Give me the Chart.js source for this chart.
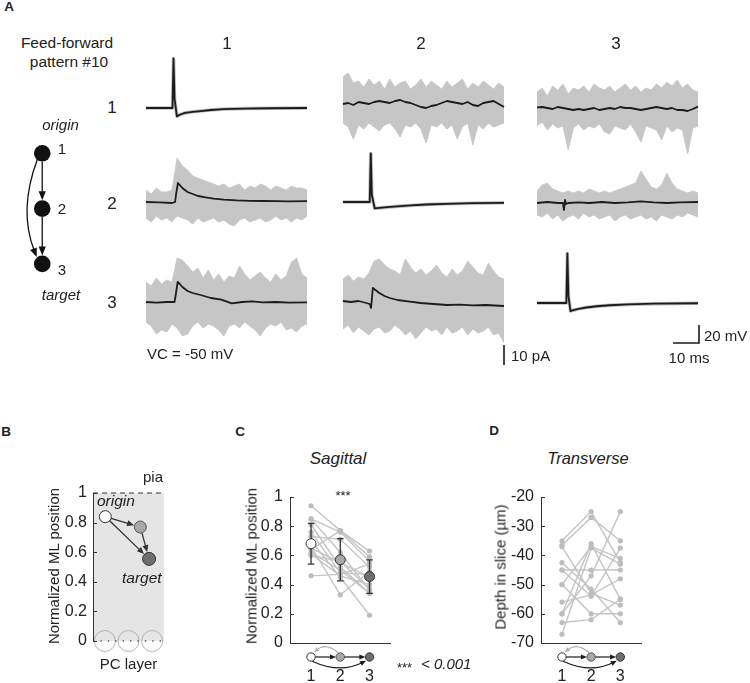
<!DOCTYPE html>
<html><head><meta charset="utf-8">
<script src="https://cdn.jsdelivr.net/npm/chart.js@4/dist/chart.umd.min.js"></script>
<style>
html,body{margin:0;padding:0;background:#fff;}
#fig{position:relative;width:750px;height:683px;overflow:hidden;font-family:'Liberation Sans',Arial,sans-serif;color:#222;}
#fig canvas{position:absolute;}
.tx{position:absolute;white-space:nowrap;line-height:1;}
</style></head><body><div id="fig"></div>
<script>
// ================= DATA =================
const cells = ['1','2','3'];
const tGrid = [0,2,4,6,8,10,12,14,16,18,20,22,24,26,28,30,32,34,36,38,40,42,44,46,48,50,52,54,56,58,60,62];

// current-clamp action potentials (mV re. rest)
const spike11T = [0,10.2,10.6,11.0,11.9,13,15,18,21,25,30,38,48,62];
const spike11V = [0,0,55,10,-9.3,-7.5,-5.5,-4.2,-3.4,-2.2,-1.2,-0.6,-0.3,0];
const spike22T = [0,10.3,10.7,11.1,12.2,14,17,21,26,32,40,50,62];
const spike22V = [0,0,54,8,-7,-6.6,-5.8,-4.8,-3.8,-2.8,-2,-1.3,-0.9];
const spike33T = [0,11.3,11.7,12.1,12.9,14,16,19,23,28,35,45,62];
const spike33V = [0,0,55,8,-9,-8,-6.5,-5,-3.6,-2.5,-1.6,-0.8,-0.3];

// voltage-clamp responses (pA): envelope of single trials + mean
const up12 = [14,16,11,12,9,13,10,12,8,13,9,11,12,8,10,13,9,12,10,8,12,9,11,13,8,11,9,12,10,8,11,9];
const lo12 = [-9,-11,-17,-10,-12,-9,-11,-13,-10,-9,-12,-16,-10,-11,-9,-12,-19,-10,-11,-9,-12,-10,-17,-11,-9,-20,-10,-12,-9,-11,-10,-9];
const mean12 = [0.5,1,0,1.5,1,0.5,1.5,2,1.5,1,2,2.5,1.5,1,0,-1,-1.5,-0.5,0,1,2,1.5,1,0.5,1.5,0,-0.5,1,1.5,2,0.5,-1];

const up13 = [8,10,6,11,9,12,7,10,9,11,8,12,10,9,11,8,10,12,9,11,8,10,9,12,10,13,11,14,10,12,9,8];
const lo13 = [-9,-7,-11,-8,-10,-9,-21,-10,-8,-11,-9,-10,-8,-12,-13,-9,-10,-11,-8,-12,-17,-9,-10,-11,-16,-9,-12,-10,-11,-23,-10,-9];
const mean13 = [0.3,0.5,0,-0.5,0.5,0,-0.5,-1,-0.5,-1,-0.5,0,-1,-0.5,0,-0.5,0.5,0,0,-0.5,-1,-0.5,0,0.5,0,-0.5,0,-1,-1,-1.5,-0.5,0.7];

const up21 = [6,4,7,5,5,6,22,18,16,13,12,11,10,9,8,9,7,8,9,6,8,7,9,8,6,8,7,6,8,7,7,6];
const lo21 = [-8,-10,-7,-9,-8,-10,-7,-8,-9,-11,-8,-10,-9,-8,-10,-9,-11,-12,-9,-8,-10,-9,-8,-10,-9,-7,-9,-8,-10,-8,-9,-7];
const mean21T = [0,5,10,11.2,11.6,12.3,13,14,16,18,20,23,26,30,35,40,45,50,55,62];
const mean21V = [0,-0.2,-0.5,0,4,9.5,8.5,7,5,4,3,2.3,1.7,1.2,0.8,0.6,0.5,0.4,0.3,0.4];

const up23 = [6,9,10,7,6,5,6,5,6,5,7,6,5,6,5,6,7,8,9,10,16,12,8,7,9,15,10,7,6,5,6,5];
const lo23 = [-6,-7,-5,-8,-6,-9,-7,-6,-8,-5,-7,-6,-8,-7,-6,-9,-7,-6,-8,-7,-6,-8,-7,-9,-6,-7,-8,-6,-7,-5,-6,-7];
const mean23T = [0,4,8,10,10.4,10.8,11.2,12,16,20,25,30,35,40,45,50,55,62];
const mean23V = [0,0.5,0,0,-3.5,1.5,-0.5,0,0.3,0,0.5,0,0.3,0.8,0.3,0,0.3,0.5];

const up31 = [10,8,12,9,11,10,22,21,18,15,17,12,16,11,14,10,13,12,18,14,11,13,15,12,10,14,11,13,20,22,14,12];
const lo31 = [-10,-12,-16,-14,-15,-11,-13,-17,-16,-12,-10,-13,-11,-12,-14,-17,-12,-11,-13,-10,-12,-14,-17,-13,-11,-12,-10,-14,-13,-15,-12,-11];
const mean31T = [0,4,8,11,11.5,12.2,13,14,16,18,21,25,29,33,37,41,45,50,55,62];
const mean31V = [0,-0.3,0,0,4,10,9,7.5,5.5,4.5,3.5,2,1.2,-0.7,0,0.3,-0.2,0,-0.3,-0.2];

const up32 = [12,14,11,13,12,15,21,22,19,17,16,14,22,18,15,17,14,16,19,15,13,17,14,16,21,18,15,14,20,16,13,12];
const lo32 = [-13,-11,-15,-12,-14,-16,-13,-12,-15,-14,-11,-13,-16,-14,-18,-15,-12,-14,-13,-16,-12,-15,-14,-12,-16,-13,-15,-14,-12,-16,-15,-20];
const mean32T = [0,3,6,9,10.3,10.8,11.5,12.5,14,16,18,21,25,30,35,40,45,50,55,62];
const mean32V = [1,0.5,1,0,-0.5,-2.5,7.5,6.5,5,3.5,2.5,1.5,0.8,0,-0.5,-1,-0.8,-1.2,-1,-1.5];

// scale bars
const barMs = 10, barMV = 20, barPA = 10;

// B: normalized ML position of the three cells
const bPosX = [0.52, 2.0, 2.37];
const bPosY = [0.84, 0.77, 0.555];
const pcSomata = [0.5, 1.5, 2.5];

// C: sagittal, normalized ML position per cell (one entry per pattern)
const sagPos1 = [0.94,0.85,0.85,0.81,0.76,0.73,0.70,0.66,0.64,0.62,0.61,0.60,0.46,0.65];
const sagPos2 = [0.77,0.76,0.62,0.52,0.48,0.71,0.45,0.33,0.77,0.50,0.46,0.56,0.47,0.55];
const sagPos3 = [0.63,0.56,0.36,0.34,0.47,0.52,0.19,0.49,0.59,0.34,0.40,0.37,0.54,0.45];
const sagMean = [0.68, 0.57, 0.455];
const sagSD = [0.14, 0.145, 0.115];

// D: transverse, depth in slice (um)
const trDepth1 = [-35,-36.5,-37,-42.5,-45,-50,-50,-56,-60,-63,-67,-45,-60];
const trDepth2 = [-25,-27,-53,-51.5,-45,-37,-60,-53.5,-36,-62,-37.5,-54,-47];
const trDepth3 = [-42.5,-35,-57,-63,-45,-41,-60,-48,-55,-55,-43,-37.5,-25];

// ================= SETUP =================
Chart.defaults.font.family = "'Liberation Sans', Arial, sans-serif";
Chart.defaults.font.size = 16;
Chart.defaults.color = '#222';
Chart.defaults.animation = false;
Chart.defaults.responsive = false;
Chart.defaults.maintainAspectRatio = false;
Chart.defaults.plugins.legend.display = false;
Chart.defaults.plugins.tooltip.enabled = false;

const fig = document.getElementById('fig');
function addCanvas(l, t, w, h) {
  const c = document.createElement('canvas');
  c.width = w; c.height = h;
  c.style.left = l + 'px'; c.style.top = t + 'px';
  c.style.width = w + 'px'; c.style.height = h + 'px';
  fig.appendChild(c);
  return c;
}
function txt(s, x, y, size, o = {}) {
  const d = document.createElement('div');
  d.className = 'tx';
  d.textContent = s;
  d.style.left = x + 'px'; d.style.top = y + 'px';
  d.style.fontSize = size + 'px';
  if (o.italic) d.style.fontStyle = 'italic';
  if (o.bold) d.style.fontWeight = 'bold';
  const ax = o.align === 'left' ? '0' : '-50%';
  d.style.transform = `translate(${ax},-50%)` + (o.rot ? ' rotate(-90deg)' : '');
  fig.appendChild(d);
}
function arrowHead(ctx, x, y, ang, len, hw, color) {
  ctx.save(); ctx.fillStyle = color; ctx.beginPath();
  ctx.moveTo(x, y);
  ctx.lineTo(x - len*Math.cos(ang) + hw*Math.sin(ang), y - len*Math.sin(ang) - hw*Math.cos(ang));
  ctx.lineTo(x - len*Math.cos(ang) - hw*Math.sin(ang), y - len*Math.sin(ang) + hw*Math.cos(ang));
  ctx.closePath(); ctx.fill(); ctx.restore();
}
function drawArrow(ctx, a, b, rA, rB, head, hw, color) {
  const ang = Math.atan2(b[1]-a[1], b[0]-a[0]);
  const sx = a[0] + rA*Math.cos(ang), sy = a[1] + rA*Math.sin(ang);
  const tx = b[0] - rB*Math.cos(ang), ty = b[1] - rB*Math.sin(ang);
  ctx.beginPath(); ctx.moveTo(sx, sy);
  ctx.lineTo(tx - head*0.7*Math.cos(ang), ty - head*0.7*Math.sin(ang)); ctx.stroke();
  arrowHead(ctx, tx, ty, ang, head, hw, color);
}
const xy = (ts, vs) => ts.map((t, i) => ({x: t, y: vs[i]}));

// ================= PANEL A: traces =================
const colLeft = [146, 343, 537];
const traceW = 161;
const msPx = traceW / 62;
const mvPx = 0.9, paPx = 2;

function traceChart(col, baseY, unitPx, datasets) {
  const W = traceW + 6, H = 140, L = colLeft[col] - 3, T = baseY - 70;
  const c = addCanvas(L, T, W, H);
  new Chart(c, {
    type: 'line',
    data: {datasets},
    options: {
      layout: {padding: 0},
      scales: {
        x: {type: 'linear', display: false, min: -3/msPx, max: (W-3)/msPx},
        y: {type: 'linear', display: false, min: -70/unitPx, max: 70/unitPx}
      },
      elements: {point: {radius: 0}, line: {tension: 0, borderJoinStyle: 'round'}}
    }
  });
}
function noisySets(up, lo, mT, mV) {
  return [
    {data: xy(mT, mV), borderColor: '#1c1c1c', borderWidth: 1.8, fill: false},
    {data: xy(tGrid, up), borderColor: '#cbcbcb', borderWidth: 1, backgroundColor: '#c6c6c6', fill: '+1'},
    {data: xy(tGrid, lo), borderColor: '#cbcbcb', borderWidth: 1, fill: false}
  ];
}
function spikeSets(T, V) {
  return [
    {data: xy(T, V), borderColor: '#1c1c1c', borderWidth: 1.8, fill: false},
    {data: xy(T, V), borderColor: '#bdbdbd', borderWidth: 3.5, fill: false}
  ];
}
traceChart(0, 108, mvPx, spikeSets(spike11T, spike11V));
traceChart(1, 105, paPx, noisySets(up12, lo12, tGrid, mean12));
traceChart(2, 108, paPx, noisySets(up13, lo13, tGrid, mean13));
traceChart(0, 202, paPx, noisySets(up21, lo21, mean21T, mean21V));
traceChart(1, 202, mvPx, spikeSets(spike22T, spike22V));
traceChart(2, 203, paPx, noisySets(up23, lo23, mean23T, mean23V));
traceChart(0, 302, paPx, noisySets(up31, lo31, mean31T, mean31V));
traceChart(1, 303, paPx, noisySets(up32, lo32, mean32T, mean32V));
traceChart(2, 303, mvPx, spikeSets(spike33T, spike33V));

// scale bars
{
  const L = 480, T = 315, W = 240, H = 60;
  const c = addCanvas(L, T, W, H);
  const cT = (699 - L)/msPx, cMV = (T + H - 343)/mvPx;
  const pT = (504 - L)/msPx, pB = (T + H - 365)/paPx;
  new Chart(c, {
    type: 'line',
    data: {datasets: [
      {data: [{x: cT - barMs, y: cMV}, {x: cT, y: cMV}, {x: cT, y: cMV + barMV}], yAxisID: 'yMV', borderColor: '#1c1c1c', borderWidth: 1.6, fill: false},
      {data: [{x: pT, y: pB}, {x: pT, y: pB + barPA}], yAxisID: 'yPA', borderColor: '#1c1c1c', borderWidth: 1.6, fill: false}
    ]},
    options: {
      layout: {padding: 0},
      scales: {
        x: {type: 'linear', display: false, min: 0, max: W/msPx},
        yMV: {type: 'linear', axis: 'y', display: false, min: 0, max: H/mvPx},
        yPA: {type: 'linear', axis: 'y', display: false, min: 0, max: H/paPx}
      },
      elements: {point: {radius: 0}, line: {tension: 0, borderJoinStyle: 'miter', borderCapStyle: 'butt'}}
    }
  });
}

// network diagram of panel A
{
  const L = 0, T = 115, W = 100, H = 200;
  const c = addCanvas(L, T, W, H);
  const nodeX = 40.7, y1 = 147.7 - T, y3 = 268.3 - T, per = (y3 - y1)/2;
  const netArrows = {
    id: 'netArrows',
    beforeDatasetsDraw(chart) {
      const {ctx, scales: {x, y}} = chart;
      const px = x.getPixelForValue(0);
      const py = cells.map((c, i) => y.getPixelForValue(i + 1));
      const r = 8.3;
      ctx.save(); ctx.strokeStyle = '#111'; ctx.lineWidth = 1.3;
      drawArrow(ctx, [px, py[0]], [px, py[1]], r, r, 9, 3.6, '#111');
      drawArrow(ctx, [px, py[1]], [px, py[2]], r, r, 9, 3.6, '#111');
      const s = [px - 5, py[0] + 6.5], cp = [px - 24, (py[0] + py[2])/2 + 2], e = [px - 5.5, py[2] - 6.8];
      const ang = Math.atan2(e[1] - cp[1], e[0] - cp[0]);
      ctx.beginPath(); ctx.moveTo(s[0], s[1]);
      ctx.quadraticCurveTo(cp[0], cp[1], e[0] - 6*Math.cos(ang), e[1] - 6*Math.sin(ang)); ctx.stroke();
      arrowHead(ctx, e[0], e[1], ang, 9, 3.6, '#111');
      ctx.restore();
    }
  };
  new Chart(c, {
    type: 'line',
    data: {datasets: [{data: cells.map((n, i) => ({x: 0, y: i + 1})), showLine: false, pointRadius: 8.3, pointBackgroundColor: '#111', pointBorderWidth: 0, clip: false}]},
    options: {
      layout: {padding: 0},
      scales: {
        x: {type: 'linear', display: false, min: -nodeX, max: W - nodeX},
        y: {type: 'linear', display: false, reverse: true, min: 1 - y1/per, max: 3 + (H - y3)/per}
      }
    },
    plugins: [netArrows]
  });
}

// ================= shared plugins for B, C, D =================
const inTicks = {
  id: 'inTicks',
  afterDraw(chart) {
    const {ctx, chartArea: a, scales: {y}} = chart;
    ctx.save(); ctx.strokeStyle = '#333'; ctx.lineWidth = 1;
    y.ticks.forEach(t => {
      const py = Math.round(y.getPixelForValue(t.value)) + 0.5;
      ctx.beginPath(); ctx.moveTo(a.left, py); ctx.lineTo(a.left + 4, py); ctx.stroke();
    });
    ctx.restore();
  }
};
const nodeFill = ['#ffffff', '#a8a8a8', '#6e6e6e'];
const nodeEdge = ['#333333', '#555555', '#333333'];
const miniNet = {
  id: 'miniNet',
  afterDraw(chart) {
    const {ctx, chartArea: a, scales: {x}} = chart;
    const y0 = a.bottom + 14, r = 4.2;
    const px = cells.map((c, i) => x.getPixelForValue(i + 1));
    ctx.save(); ctx.lineWidth = 1.2;
    // grey feedback arc 2 -> 1
    ctx.strokeStyle = '#b0b0b0';
    let s = [px[1] - 2, y0 - r], cp = [(px[0] + px[1])/2, y0 - 15], e = [px[0] + 3, y0 - r - 0.5];
    let ang = Math.atan2(e[1] - cp[1], e[0] - cp[0]);
    ctx.beginPath(); ctx.moveTo(s[0], s[1]); ctx.quadraticCurveTo(cp[0], cp[1], e[0] - 3*Math.cos(ang), e[1] - 3*Math.sin(ang)); ctx.stroke();
    arrowHead(ctx, e[0], e[1], ang, 5, 2.3, '#b0b0b0');
    // black arc 1 -> 3 below
    ctx.strokeStyle = '#1c1c1c';
    s = [px[0] + 1, y0 + r]; cp = [px[1], y0 + 17]; e = [px[2] - 3.5, y0 + r - 0.5];
    ang = Math.atan2(e[1] - cp[1], e[0] - cp[0]);
    ctx.beginPath(); ctx.moveTo(s[0], s[1]); ctx.quadraticCurveTo(cp[0], cp[1], e[0] - 4*Math.cos(ang), e[1] - 4*Math.sin(ang)); ctx.stroke();
    arrowHead(ctx, e[0], e[1], ang, 6, 2.6, '#1c1c1c');
    // straight arrows
    drawArrow(ctx, [px[0], y0], [px[1], y0], r, r, 6, 2.6, '#1c1c1c');
    drawArrow(ctx, [px[1], y0], [px[2], y0], r, r, 6, 2.6, '#1c1c1c');
    // nodes
    px.forEach((p, i) => {
      ctx.beginPath(); ctx.arc(p, y0, r, 0, Math.PI*2);
      ctx.fillStyle = nodeFill[i]; ctx.fill();
      ctx.strokeStyle = nodeEdge[i]; ctx.lineWidth = 1; ctx.stroke();
    });
    ctx.restore();
  }
};
const errBars = {
  id: 'errBars',
  beforeDatasetDraw(chart, args) {
    if (args.index !== 0) return;
    const {ctx, scales: {x, y}} = chart;
    ctx.save(); ctx.strokeStyle = '#333'; ctx.lineWidth = 1.3;
    sagMean.forEach((m, i) => {
      const px = x.getPixelForValue(i + 1), t = y.getPixelForValue(m + sagSD[i]), b = y.getPixelForValue(m - sagSD[i]);
      ctx.beginPath(); ctx.moveTo(px, t); ctx.lineTo(px, b);
      ctx.moveTo(px - 3.3, t); ctx.lineTo(px + 3.3, t);
      ctx.moveTo(px - 3.3, b); ctx.lineTo(px + 3.3, b); ctx.stroke();
    });
    ctx.restore();
  }
};

// ================= PANEL B =================
{
  const c = addCanvas(20, 465, 160, 218);
  const bBack = {
    id: 'bBack',
    beforeDraw(chart) {
      const {ctx, chartArea: a} = chart;
      ctx.save(); ctx.fillStyle = '#e5e5e5';
      ctx.fillRect(a.left + 0.5, a.top, a.right - a.left - 0.5, a.bottom - a.top);
      ctx.restore();
    }
  };
  const bArrows = {
    id: 'bArrows',
    beforeDatasetDraw(chart, args) {
      if (args.index !== 0) return;
      const {ctx, scales: {x, y}} = chart;
      const P = bPosX.map((v, i) => [x.getPixelForValue(v), y.getPixelForValue(bPosY[i])]);
      ctx.save(); ctx.strokeStyle = '#333'; ctx.lineWidth = 1.3;
      drawArrow(ctx, P[0], P[1], 6, 6.5, 7, 3, '#333');
      drawArrow(ctx, P[1], P[2], 6, 7, 7, 3, '#333');
      drawArrow(ctx, P[0], P[2], 6, 7, 7, 3, '#333');
      ctx.restore();
    }
  };
  new Chart(c, {
    type: 'line',
    data: {datasets: [
      {data: bPosX.map((v, i) => ({x: v, y: bPosY[i]})), showLine: false, pointRadius: [6, 6, 6.5],
       pointBackgroundColor: nodeFill, pointBorderColor: nodeEdge, pointBorderWidth: 1, clip: false},
      {data: [{x: 0, y: 1}, {x: 3, y: 1}], borderColor: '#333', borderWidth: 1.2, borderDash: [5, 4], pointRadius: 0, clip: false},
      {data: [{x: 0, y: 0}, {x: 3, y: 0}], borderColor: '#555', borderWidth: 1.4, borderDash: [1.4, 6], pointRadius: 0, clip: false},
      {data: pcSomata.map(v => ({x: v, y: 0})), showLine: false, pointRadius: 10.5, pointBackgroundColor: 'rgba(0,0,0,0)',
       pointBorderColor: '#b3b3b3', pointBorderWidth: 1, clip: false}
    ]},
    options: {
      layout: {padding: {top: 28, right: 16, bottom: 42, left: 0}},
      scales: {
        x: {type: 'linear', display: false, min: 0, max: 3},
        y: {type: 'linear', min: 0, max: 1, afterFit: s => { s.width = 73; },
            ticks: {stepSize: 0.2, padding: 6, color: '#222', font: {size: 16}, callback: v => String(Math.round(v*10)/10)},
            grid: {display: true, drawOnChartArea: false, drawTicks: false}, border: {color: '#333', width: 1}}
      },
      elements: {line: {tension: 0}}
    },
    plugins: [bBack, bArrows, inTicks]
  });
}

// ================= PANELS C, D =================
function stripChart(o) {
  const c = addCanvas(o.left, o.top, o.w, o.h);
  const subjects = o.s1.map((v, i) => ({
    data: [{x: 1, y: o.s1[i]}, {x: 2, y: o.s2[i]}, {x: 3, y: o.s3[i]}],
    borderColor: '#c4c4c4', borderWidth: 1.4, pointRadius: 2.6,
    pointBackgroundColor: '#bdbdbd', pointBorderWidth: 0, fill: false
  }));
  const ds = o.means ? [{
    data: o.means.map((m, i) => ({x: i + 1, y: m})), showLine: false, pointRadius: 5,
    pointBackgroundColor: nodeFill, pointBorderColor: '#333', pointBorderWidth: 1
  }, ...subjects] : subjects;
  new Chart(c, {
    type: 'line',
    data: {datasets: ds},
    options: {
      layout: {padding: {top: o.padTop, right: o.padRight, left: 0, bottom: 0}},
      scales: {
        x: {type: 'linear', min: o.xMin, max: o.xMax,
            afterBuildTicks: s => { s.ticks = cells.map((n, i) => ({value: i + 1})); },
            afterFit: s => { s.height = o.xH; },
            ticks: {padding: 24, font: {size: 16}, color: '#222', maxRotation: 0, autoSkip: false, callback: v => cells[Math.round(v) - 1]},
            grid: {display: true, drawOnChartArea: false, drawTicks: false}, border: {color: '#333', width: 1}},
        y: {type: 'linear', min: o.yMin, max: o.yMax, afterFit: s => { s.width = o.yW; },
            ticks: {stepSize: o.yStep, padding: 7, font: {size: 16}, color: '#222', callback: o.fmt},
            grid: {display: true, drawOnChartArea: false, drawTicks: false}, border: {color: '#333', width: 1}}
      },
      elements: {line: {tension: 0}}
    },
    plugins: o.means ? [inTicks, miniNet, errBars] : [inTicks, miniNet]
  });
}
stripChart({left: 235, top: 470, w: 170, h: 213, yW: 55, xH: 40, padTop: 27, padRight: 15,
  xMin: 0.28, xMax: 3.70, yMin: 0, yMax: 1, yStep: 0.2, fmt: v => String(Math.round(v*10)/10),
  s1: sagPos1, s2: sagPos2, s3: sagPos3, means: sagMean});
stripChart({left: 485, top: 470, w: 170, h: 213, yW: 56, xH: 40, padTop: 27, padRight: 13.3,
  xMin: 0.28, xMax: 3.734, yMin: -70, yMax: -20, yStep: 10, fmt: v => String(v),
  s1: trDepth1, s2: trDepth2, s3: trDepth3, means: null});

// ================= TEXT =================
txt('A', 9, 7, 13.5, {bold: true});
txt('Feed-forward', 67, 43, 15.5);
txt('pattern #10', 69, 62, 15.5);
txt(cells[0], 227, 43, 17); txt(cells[1], 421, 43, 17); txt(cells[2], 616, 43, 17);
txt(cells[0], 112, 107, 17); txt(cells[1], 112, 203, 17); txt(cells[2], 112, 302, 17);
txt(cells[0], 62, 148, 15); txt(cells[1], 62, 208, 15); txt(cells[2], 62, 269, 15);
txt('origin', 60.5, 124, 15, {italic: true});
txt('target', 61, 294, 15, {italic: true});
txt('VC = -50 mV', 147, 353, 15, {align: 'left'});
txt('10 pA', 511, 355, 15, {align: 'left'});
txt('20 mV', 704, 335, 15, {align: 'left'});
txt('10 ms', 689, 357, 15);

txt('B', 6, 432, 13.5, {bold: true});
txt('pia', 153, 476, 15);
txt('origin', 97, 501, 15.5, {italic: true, align: 'left'});
txt('target', 122, 578, 15.5, {italic: true, align: 'left'});
txt('PC layer', 128.5, 663, 15);
txt('Normalized ML position', 53, 566, 15, {rot: true});

txt('C', 240, 432, 13.5, {bold: true});
txt('Sagittal', 338, 458, 17, {italic: true});
txt('***', 343, 495, 13);
txt('Normalized ML position', 251, 566, 15, {rot: true});
txt('***', 397, 667, 13, {align: 'left'});
txt('< 0.001', 421, 663, 15, {italic: true, align: 'left'});

txt('D', 494, 431, 13.5, {bold: true});
txt('Transverse', 588, 458, 16.5, {italic: true});
txt('Depth in slice (µm)', 500, 567, 15, {rot: true});
</script></body></html>
